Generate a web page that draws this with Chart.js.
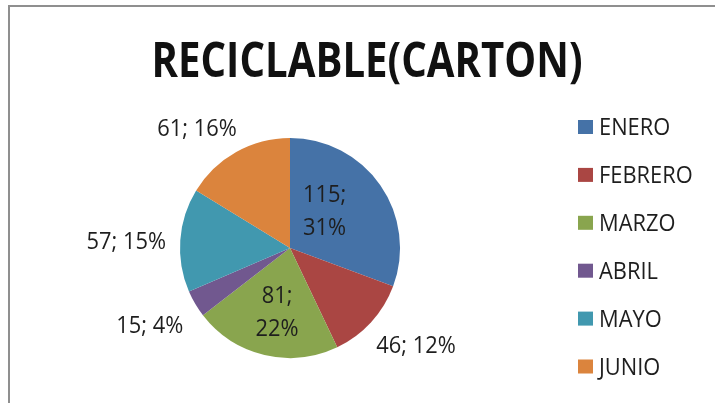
<!DOCTYPE html>
<html>
<head>
<meta charset="utf-8">
<script src="https://cdn.jsdelivr.net/npm/chart.js@4.4.1/dist/chart.umd.min.js"></script>
<style>
html,body{margin:0;padding:0;background:#fff;}
#wrap{position:relative;width:715px;height:403px;}
</style>
</head>
<body>
<div id="wrap"><canvas id="c" width="715" height="403"></canvas></div>
<script>
const titleText = "RECICLABLE(CARTON)";
const categories = ["ENERO", "FEBRERO", "MARZO", "ABRIL", "MAYO", "JUNIO"];
const values = [115, 46, 81, 15, 57, 61];
const colors = ["#4572A7", "#AA4643", "#89A54E", "#71588F", "#4198AF", "#DB843D"];

// label placement relative to each slice: angular tweak (deg) and distance as fraction of radius
const labelPlacement = [
  {dAng: -13.3, f: 0.47, lines: 2},
  {dAng: -4.9, f: 1.445, lines: 1},
  {dAng: -1.7, f: 0.58, lines: 2},
  {dAng: 1.7, f: 1.455, lines: 1},
  {dAng: -1.7, f: 1.49, lines: 1},
  {dAng: -8.5, f: 1.38, lines: 1}
];

function drawScaledText(ctx, text, x, baseline, font, sx, align) {
  ctx.save();
  ctx.font = font;
  const w = ctx.measureText(text).width * sx;
  let left = x;
  if (align === 'center') left = x - w / 2;
  else if (align === 'right') left = x - w;
  ctx.translate(left, baseline);
  ctx.scale(sx, 1);
  ctx.textAlign = 'left';
  ctx.textBaseline = 'alphabetic';
  ctx.fillText(text, 0, 0);
  ctx.restore();
}

const decor = {
  id: 'decor',
  beforeDraw(chart) {
    const ctx = chart.ctx;
    ctx.save();
    ctx.fillStyle = '#fff';
    ctx.fillRect(0, 0, chart.width, chart.height);
    ctx.strokeStyle = '#8f8f8f';
    ctx.lineWidth = 2;
    ctx.beginPath();
    ctx.moveTo(9, 410);
    ctx.lineTo(9, 6);
    ctx.lineTo(720, 6);
    ctx.stroke();
    ctx.restore();
  },
  afterDraw(chart) {
    const ctx = chart.ctx;
    // title
    ctx.save();
    ctx.fillStyle = '#111';
    ctx.font = 'bold 49px "Open Sans"';
    const tw = ctx.measureText(titleText).width;
    drawScaledText(ctx, titleText, 367, 77, 'bold 49px "Open Sans"', 431 / tw, 'center');
    ctx.restore();

    // data labels
    const meta = chart.getDatasetMeta(0);
    const total = values.reduce((a, b) => a + b, 0);
    ctx.save();
    ctx.fillStyle = '#1e1e1e';
    const lf = '23px "Open Sans"';
    const sx = 0.95;
    meta.data.forEach((arc, i) => {
      const p = arc.getProps(['x', 'y', 'startAngle', 'endAngle', 'outerRadius'], true);
      const pl = labelPlacement[i];
      const mid = (p.startAngle + p.endAngle) / 2 + pl.dAng * Math.PI / 180;
      const cx = p.x + Math.cos(mid) * p.outerRadius * pl.f;
      const cy = p.y + Math.sin(mid) * p.outerRadius * pl.f;
      const pct = Math.round(values[i] / total * 100) + '%';
      if (pl.lines === 2) {
        drawScaledText(ctx, values[i] + ';', cx, cy - 16 + 8.2, lf, sx, 'center');
        drawScaledText(ctx, pct, cx, cy + 17 + 8.2, lf, sx, 'center');
      } else {
        drawScaledText(ctx, values[i] + '; ' + pct, cx, cy + 8.2, lf, sx, 'center');
      }
    });
    ctx.restore();

    // legend
    ctx.save();
    categories.forEach((c, i) => {
      const cy = 127 + i * 47.9;
      ctx.fillStyle = colors[i];
      ctx.fillRect(578, cy - 7, 15, 14);
      ctx.fillStyle = '#1e1e1e';
      drawScaledText(ctx, c, 599, cy + 8.2, '23px "Open Sans"', 0.95, 'left');
    });
    ctx.restore();
  }
};

new Chart(document.getElementById('c'), {
  type: 'pie',
  data: {
    labels: categories,
    datasets: [{
      data: values,
      backgroundColor: colors,
      borderWidth: 0
    }]
  },
  options: {
    responsive: false,
    animation: false,
    devicePixelRatio: 1,
    layout: {padding: {left: 180, right: 315, top: 138, bottom: 45}},
    plugins: {
      legend: {display: false},
      title: {display: false},
      tooltip: {enabled: false}
    }
  },
  plugins: [decor]
});
</script>
</body>
</html>
